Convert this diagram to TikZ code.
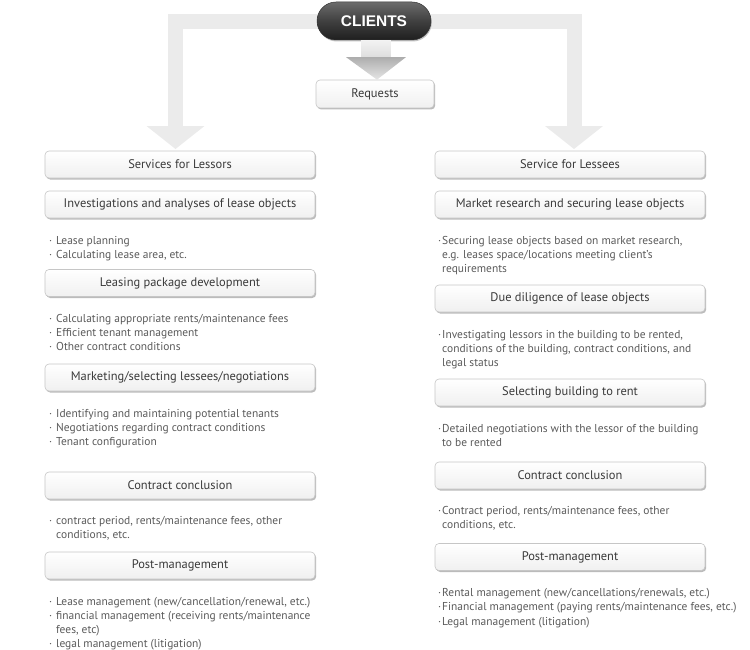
\documentclass[tikz,border=0pt]{standalone}
\usepackage{fontspec}
\setmainfont{PT Sans}
\newfontfamily\clientsfont{Liberation Sans}
\usetikzlibrary{shadows}
\definecolor{bandgray}{HTML}{EBEBEB}
\definecolor{boxborder}{HTML}{C6C6C6}
\definecolor{boxshadow}{HTML}{B4B4B4}
\definecolor{headtext}{HTML}{3A3A3A}
\definecolor{bullettext}{HTML}{5A5A5A}
\tikzset{
  stepbox/.style={draw=boxborder, rounded corners=4bp, minimum width=270bp, minimum height=27bp,
    top color=white, bottom color=black!6, line width=0.6bp,
    drop shadow={shadow xshift=1.2bp, shadow yshift=-1.5bp, fill=boxshadow, opacity=0.9},
    text=headtext, font=\fontsize{12.5}{14}\selectfont, inner sep=0pt},
  bulletL/.style={anchor=base west, inner sep=0pt, text=bullettext, font=\fontsize{11.5}{14.2}\selectfont},
  band/.style={draw=bandgray, line width=15bp},
}
\newcommand{\bl}{\makebox[7bp][l]{\textperiodcentered}}
\newcommand{\br}{\makebox[4bp][l]{\textperiodcentered}}
\begin{document}
\begin{tikzpicture}[x=1bp,y=-1bp]
\useasboundingbox (0,0) rectangle (750,650);
\coordinate (lt) at (175.5,150);
\coordinate (rt) at (574,150);
% bands
\draw[band] (374,21.5) -| ([yshift=24]lt);
\draw[band] (374,21.5) -| ([yshift=24]rt);
\fill[bandgray] ([xshift=-29,yshift=24]lt) -- ([xshift=29,yshift=24]lt) -- ([yshift=1]lt) -- cycle;
\fill[bandgray] ([xshift=-29,yshift=24]rt) -- ([xshift=29,yshift=24]rt) -- ([yshift=1]rt) -- cycle;
% nodes
\node[stepbox] (lessors) at (180,164.5) {Services for Lessors};
\node[stepbox] (lessees) at (570,164.5) {Service for Lessees};
% clients
\node[rounded corners=19bp, minimum width=114bp, minimum height=38bp, inner sep=0pt,
  top color=black!58, bottom color=black!88, middle color=black!75, draw=black!80, line width=0.5bp,
  drop shadow={shadow xshift=0.8bp, shadow yshift=-1.5bp, fill=black!40, opacity=0.6},
  text=white, font=\clientsfont\bfseries\fontsize{15.5}{17}\selectfont] (clients) at (374,21) {CLIENTS};
\node[stepbox, minimum width=118bp, minimum height=28bp] (requests) at (375,94) {Requests};
% center arrow
\shade[top color=black!5, bottom color=black!13] ([xshift=-13]clients.south) rectangle ([xshift=17,yshift=-17]clients.south);
\shade[top color=black!32, bottom color=black!10] ([xshift=-28,yshift=-17]clients.south) -- ([xshift=32,yshift=-17]clients.south) -- ([xshift=2]requests.north) -- cycle;
% left column
\node[stepbox] (inv) at (180,204.5) {Investigations and analyses of lease objects};
\node[stepbox] (pkg) at (180,283) {Leasing package development};
\node[stepbox] (mkt) at (180,377.5) {Marketing/selecting lessees/negotiations};
\node[stepbox] (ccl) at (180,485.5) {Contract conclusion};
\node[stepbox] (pml) at (180,565.5) {Post-management};
\node[bulletL] (b1) at (49,244) {\begin{tabular}[t]{@{}l@{}l@{}}\bl&Lease planning\\ \bl&Calculating lease area, etc.\end{tabular}};
\node[bulletL] (b2) at (49,322) {\begin{tabular}[t]{@{}l@{}l@{}}\bl&Calculating appropriate rents/maintenance fees\\ \bl&Efficient tenant management\\ \bl&Other contract conditions\end{tabular}};
\node[bulletL] (b3) at (49,417) {\begin{tabular}[t]{@{}l@{}l@{}}\bl&Identifying and maintaining potential tenants\\ \bl&Negotiations regarding contract conditions\\ \bl&Tenant configuration\end{tabular}};
\node[bulletL] (b4) at (49,524.5) {\begin{tabular}[t]{@{}l@{}l@{}}\bl&contract period, rents/maintenance fees, other\\ &conditions, etc.\end{tabular}};
\node[bulletL] (b5) at (49,605) {\begin{tabular}[t]{@{}l@{}l@{}}\bl&Lease management (new/cancellation/renewal, etc.)\\ \bl&financial management (receiving rents/maintenance\\ &fees, etc)\\ \bl&legal management (litigation)\end{tabular}};
% right column
\node[stepbox] (mr) at (570,204.5) {Market research and securing lease objects};
\node[stepbox] (dd) at (570,298.5) {Due diligence of lease objects};
\node[stepbox] (sel) at (570,392.5) {Selecting building to rent};
\node[stepbox] (ccr) at (570,475.5) {Contract conclusion};
\node[stepbox] (pmr) at (570,557) {Post-management};
\node[bulletL] (c1) at (438,244) {\begin{tabular}[t]{@{}l@{}l@{}}\br&Securing lease objects based on market research,\\ &e.g. leases space/locations meeting client's\\ &requirements\end{tabular}};
\node[bulletL] (c2) at (438,338.5) {\begin{tabular}[t]{@{}l@{}l@{}}\br&Investigating lessors in the building to be rented,\\ &conditions of the building, contract conditions, and\\ &legal status\end{tabular}};
\node[bulletL] (c3) at (438,432) {\begin{tabular}[t]{@{}l@{}l@{}}\br&Detailed negotiations with the lessor of the building\\ &to be rented\end{tabular}};
\node[bulletL] (c4) at (438,514.7) {\begin{tabular}[t]{@{}l@{}l@{}}\br&Contract period, rents/maintenance fees, other\\ &conditions, etc.\end{tabular}};
\node[bulletL] (c5) at (438,596.7) {\begin{tabular}[t]{@{}l@{}l@{}}\br&Rental management (new/cancellations/renewals, etc.)\\ \br&Financial management (paying rents/maintenance fees, etc.)\\ \br&Legal management (litigation)\end{tabular}};
\end{tikzpicture}
\end{document}
